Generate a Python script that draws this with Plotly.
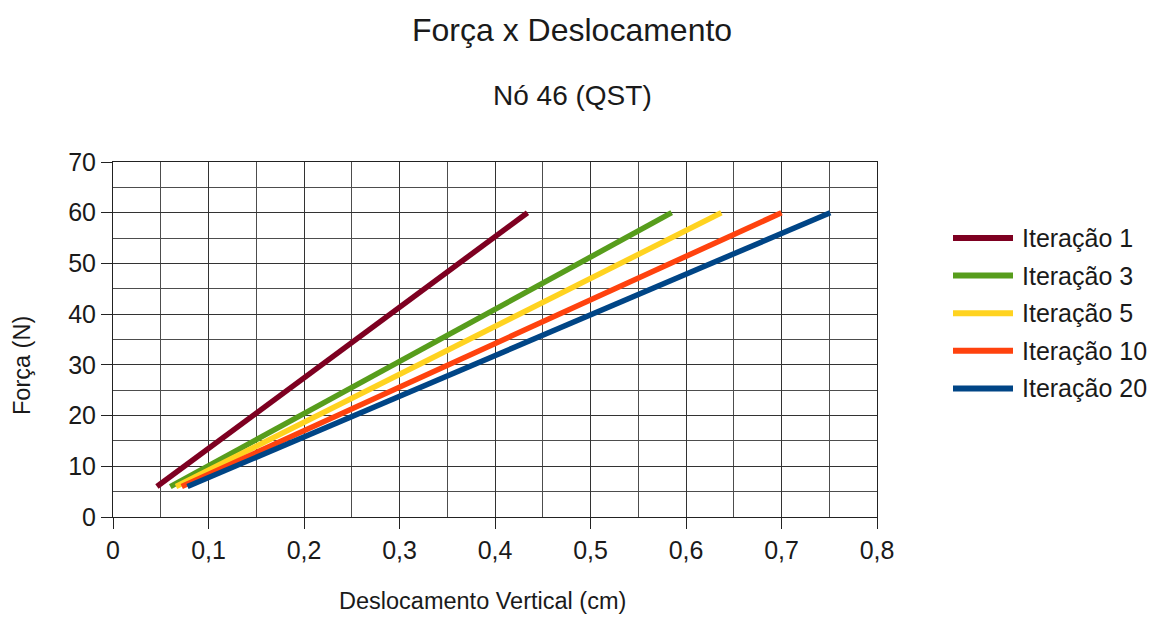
import plotly.graph_objects as go

# Force (N) applied at node 46 and resulting vertical displacement (cm)
series_names = ["Iteração 1", "Iteração 3", "Iteração 5", "Iteração 10", "Iteração 20"]
series_colors = ["#7e0021", "#579d1c", "#ffd320", "#ff420e", "#004586"]
forces = [6, 60]
displacements = [
    [0.046, 0.434],
    [0.060, 0.585],
    [0.066, 0.637],
    [0.072, 0.700],
    [0.078, 0.751],
]

x_ticks = [0, 0.1, 0.2, 0.3, 0.4, 0.5, 0.6, 0.7, 0.8]
x_tick_labels = ["0", "0,1", "0,2", "0,3", "0,4", "0,5", "0,6", "0,7", "0,8"]
y_ticks = [0, 10, 20, 30, 40, 50, 60, 70]

FONT = "Liberation Sans, Arial, sans-serif"
TXT = "#1a1a1a"

fig = go.Figure()
for name, color, xs in zip(series_names, series_colors, displacements):
    fig.add_trace(go.Scatter(
        x=xs, y=forces, mode="lines", name=name,
        line=dict(color=color, width=5.5), showlegend=False,
    ))

grid = "#333333"
fig.update_xaxes(
    range=[0, 0.8], tickvals=x_ticks, ticktext=x_tick_labels,
    showgrid=True, gridcolor=grid, gridwidth=1,
    minor=dict(dtick=0.05, showgrid=True, gridcolor="#4d4d4d", gridwidth=1),
    showline=True, linecolor="#222222", linewidth=1, mirror=True,
    ticks="outside", ticklen=11, tickcolor="#222222",
    tickfont=dict(family=FONT, size=25, color=TXT), zeroline=False,
)
fig.update_yaxes(
    range=[0, 70], tickvals=y_ticks,
    showgrid=True, gridcolor=grid, gridwidth=1,
    minor=dict(dtick=5, showgrid=True, gridcolor="#4d4d4d", gridwidth=1),
    showline=True, linecolor="#222222", linewidth=1, mirror=True,
    ticks="outside", ticklen=11, tickcolor="#222222",
    tickfont=dict(family=FONT, size=25, color=TXT), zeroline=False,
)

annotations = [
    dict(text="Força x Deslocamento", x=(572 - 113) / 764, y=(517 - 30) / 355,
         font=dict(size=32)),
    dict(text="Nó 46 (QST)", x=(572 - 113) / 764, y=(517 - 95) / 355,
         font=dict(size=28)),
    dict(text="Deslocamento Vertical (cm)", x=(482 - 113) / 764, y=(517 - 601) / 355,
         font=dict(size=23.5)),
    dict(text="Força (N)", x=(22 - 113) / 764, y=(517 - 366) / 355,
         font=dict(size=23.5), textangle=-90),
]
for a in annotations:
    a.update(xref="paper", yref="paper", showarrow=False,
             xanchor="center", yanchor="middle")
    a["font"].update(family=FONT, color=TXT)

# Legend drawn beside the plot area
shapes = []
row_y0 = 1.0 - (238 - 162) / 355
row_step = 37.6 / 355
for i, (name, color) in enumerate(zip(series_names, series_colors)):
    yy = row_y0 - i * row_step
    shapes.append(dict(type="line", xref="paper", yref="paper",
                       x0=(953 - 113) / 764, x1=(1013 - 113) / 764, y0=yy, y1=yy,
                       line=dict(color=color, width=6)))
    annotations.append(dict(text=name, xref="paper", yref="paper",
                            x=(1020 - 113) / 764, y=yy, showarrow=False,
                            xanchor="left", yanchor="middle",
                            font=dict(family=FONT, size=25, color=TXT)))

fig.update_layout(
    width=1160, height=617,
    margin=dict(l=113, r=283, t=162, b=100),
    paper_bgcolor="white", plot_bgcolor="white",
    separators=", ",
    annotations=annotations, shapes=shapes,
    showlegend=False,
    font=dict(family=FONT, color=TXT),
)

fig.write_html("out.html")
